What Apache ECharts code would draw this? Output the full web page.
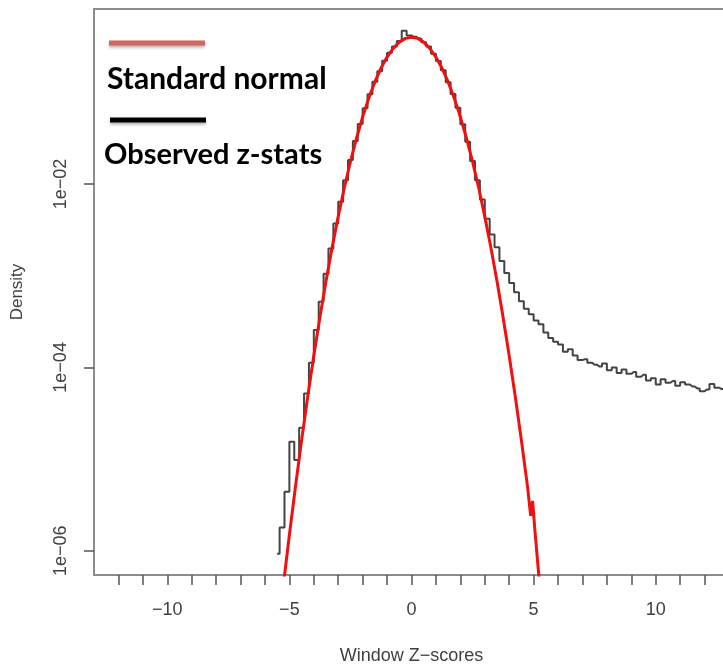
<!DOCTYPE html>
<html>
<head>
<meta charset="utf-8">
<script src="https://cdn.jsdelivr.net/npm/echarts@6/dist/echarts.min.js"></script>
<style>
  html, body { margin: 0; padding: 0; background: #fff; }
  #chart { width: 723px; height: 664px; }
</style>
</head>
<body>
<div id="chart"></div>
<script>
// Histogram of observed window z-statistics (bin centres, density per bin)
const binCenters = [
  -5.5, -5.3, -5.1, -4.9, -4.7, -4.5, -4.3, -4.1, -3.9, -3.7,
  -3.5, -3.3, -3.1, -2.9, -2.7, -2.5, -2.3, -2.1, -1.9, -1.7,
  -1.5, -1.3, -1.1, -0.9, -0.7, -0.5, -0.3, -0.1, 0.1, 0.3,
  0.5, 0.7, 0.9, 1.1, 1.3, 1.5, 1.7, 1.9, 2.1, 2.3,
  2.5, 2.7, 2.9, 3.1, 3.3, 3.5, 3.7, 3.9, 4.1, 4.3,
  4.5, 4.7, 4.9, 5.1, 5.3, 5.5, 5.7, 5.9, 6.1, 6.3,
  6.5, 6.7, 6.9, 7.1, 7.3, 7.5, 7.7, 7.9, 8.1, 8.3,
  8.5, 8.7, 8.9, 9.1, 9.3, 9.5, 9.7, 9.9, 10.1, 10.3,
  10.5, 10.7, 10.9, 11.1, 11.3, 11.5, 11.7, 11.9, 12.1, 12.3,
  12.5, 12.7, 12.9
];
const observedDensity = [
  9.3e-7, 1.8e-6, 4.4e-6, 1.55e-5, 9.8e-6, 2.2e-5, 5.2e-5, 1.12e-4, 2.55e-4, 5.2e-4,
  1.05e-3, 1.98e-3, 3.7e-3, 6.4e-3, 1.1e-2, 1.83e-2, 2.95e-2, 4.5e-2, 6.7e-2, 9.5e-2,
  0.130, 0.170, 0.221, 0.269, 0.316, 0.363, 0.468, 0.417, 0.403, 0.385,
  0.351, 0.316, 0.263, 0.219, 0.174, 0.129, 0.0955, 0.0676, 0.0447, 0.0288,
  0.0178, 0.01096, 6.76e-3, 4.17e-3, 2.82e-3, 2.04e-3, 1.45e-3, 1.07e-3, 8.3e-4, 6.6e-4,
  5.25e-4, 4.37e-4, 3.8e-4, 3.24e-4, 2.95e-4, 2.4e-4, 2.09e-4, 1.9e-4, 1.78e-4, 1.48e-4,
  1.58e-4, 1.35e-4, 1.2e-4, 1.23e-4, 1.12e-4, 1.07e-4, 1.02e-4, 1.1e-4, 9.3e-5, 1.0e-4,
  8.7e-5, 9.5e-5, 8.5e-5, 8.9e-5, 7.9e-5, 8.3e-5, 7.2e-5, 7.6e-5, 6.5e-5, 7.4e-5,
  6.8e-5, 7.1e-5, 6.3e-5, 6.9e-5, 6.5e-5, 6.2e-5, 5.9e-5, 5.5e-5, 5.75e-5, 6.6e-5,
  6.0e-5, 5.8e-5, 6.1e-5
];

// Standard normal reference curve
const normalX = [
  -5.25, -5, -4.75, -4.5, -4.25, -4, -3.75, -3.5, -3.25, -3,
  -2.75, -2.5, -2.25, -2, -1.75, -1.5, -1.25, -1, -0.75, -0.5,
  -0.25, 0, 0.25, 0.5, 0.75, 1, 1.25, 1.5, 1.75, 2,
  2.25, 2.5, 2.75, 3, 3.25, 3.5, 3.75, 4, 4.25, 4.5,
  4.75, 4.88, 4.96, 5.05, 5.25
];
const normalDensity = [
  4.13e-7, 1.49e-6, 5.04e-6, 1.60e-5, 4.78e-5, 1.34e-4, 3.53e-4, 8.73e-4, 2.03e-3, 4.43e-3,
  9.09e-3, 0.0175, 0.0317, 0.0540, 0.0863, 0.1295, 0.183, 0.242, 0.301, 0.352,
  0.387, 0.399, 0.387, 0.352, 0.301, 0.242, 0.183, 0.1295, 0.0863, 0.0540,
  0.0317, 0.0175, 9.09e-3, 4.43e-3, 2.03e-3, 8.73e-4, 3.53e-4, 1.34e-4, 4.78e-5, 1.60e-5,
  5.04e-6, 2.4e-6, 3.5e-6, 1.7e-6, 4.13e-7
];

// Axis ticks and labels
const xTickValues = [-12, -11, -10, -9, -8, -7, -6, -5, -4, -3, -2, -1, 0, 1, 2, 3, 4, 5, 6, 7, 8, 9, 10, 11, 12];
const xLabelValues = [-10, -5, 0, 5, 10];
const yLabelExponents = [-6, -4, -2];

const MINUS = '\u2212';
const axisFont = 'Liberation Sans';
const textGrey = '#404040';

// density axis is drawn on a log10 scale
const log10 = v => Math.log10(v);
const observedData = binCenters.map((x, i) => [x, log10(observedDensity[i])]);
const normalData = normalX.map((x, i) => [x, log10(normalDensity[i])]);

const chart = echarts.init(document.getElementById('chart'), null, { renderer: 'canvas' });

chart.setOption({
  animation: false,
  backgroundColor: '#fff',
  grid: {
    left: 94, top: 9, right: -6, bottom: 89,
    outerBoundsMode: 'none', containLabel: false,
    show: true, borderColor: '#8c8c8c', borderWidth: 2, backgroundColor: 'transparent'
  },
  xAxis: {
    type: 'value', min: -13, max: 13,
    name: 'Window Z' + MINUS + 'scores',
    nameLocation: 'middle', nameGap: 72,
    nameTextStyle: { fontFamily: axisFont, fontSize: 18, color: textGrey },
    axisLine: { show: false, onZero: false },
    splitLine: { show: false },
    axisTick: { show: true, length: 10, customValues: xTickValues, lineStyle: { color: '#555', width: 1.5 } },
    axisLabel: {
      customValues: xLabelValues, margin: 26,
      fontFamily: axisFont, fontSize: 18, color: textGrey,
      formatter: v => String(v).replace('-', MINUS)
    }
  },
  yAxis: {
    type: 'value', min: -6.264, max: -0.092,
    name: 'Density', nameLocation: 'middle', nameRotate: 90, nameGap: 68,
    nameTextStyle: { fontFamily: axisFont, fontSize: 17, color: textGrey },
    axisLine: { show: false, onZero: false },
    splitLine: { show: false },
    axisTick: { show: true, length: 10, customValues: yLabelExponents, lineStyle: { color: '#555', width: 1.5 } },
    axisLabel: {
      customValues: yLabelExponents, rotate: 90, margin: 24,
      fontFamily: axisFont, fontSize: 18, color: textGrey,
      formatter: v => '1e' + (v < 0 ? MINUS : '+') + String(Math.abs(Math.round(v))).padStart(2, '0')
    }
  },
  series: [
    {
      name: 'Observed z-stats', type: 'line', step: 'middle',
      data: observedData, showSymbol: false, clip: true,
      lineStyle: { color: '#444', width: 2 }, z: 2
    },
    {
      name: 'Standard normal', type: 'line',
      data: normalData, showSymbol: false, clip: true,
      lineStyle: { color: '#f01010', width: 3 }, z: 3
    }
  ],
  graphic: [
    {
      type: 'line', shape: { x1: 109, y1: 43, x2: 205, y2: 43 },
      style: { stroke: '#d4645e', lineWidth: 5, shadowBlur: 3, shadowOffsetY: 2, shadowColor: 'rgba(0,0,0,0.3)' }
    },
    {
      type: 'text', x: 107, y: 79,
      style: { text: 'Standard normal', font: 'bold 30px Lato', fill: '#000', verticalAlign: 'middle' }
    },
    {
      type: 'line', shape: { x1: 110, y1: 120, x2: 206, y2: 120 },
      style: { stroke: '#000', lineWidth: 5, shadowBlur: 3, shadowOffsetY: 2, shadowColor: 'rgba(0,0,0,0.3)' }
    },
    {
      type: 'text', x: 104, y: 155,
      style: { text: 'Observed z-stats', font: 'bold 29px Lato', fill: '#000', verticalAlign: 'middle' }
    }
  ]
});
</script>
</body>
</html>
